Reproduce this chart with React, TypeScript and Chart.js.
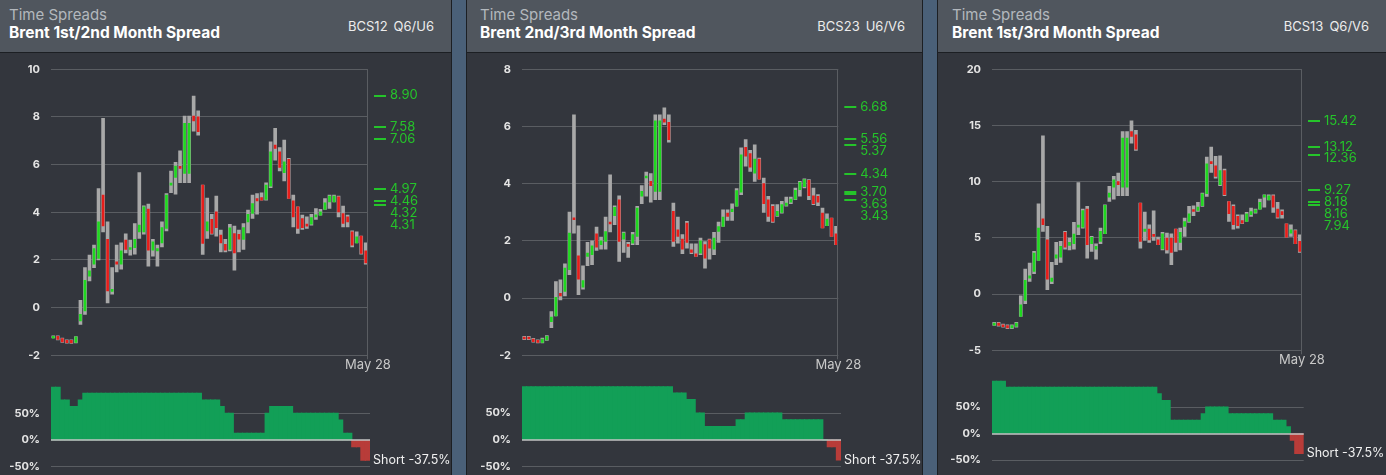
import React, { useEffect, useRef } from "react";
import { Chart, registerables } from "chart.js";

Chart.register(...registerables);

const FONT = "Inter, 'Liberation Sans', Arial, sans-serif";
Chart.defaults.font.family = FONT;

// ---------- categories ----------
const DATES = [
  "Feb 20", "Feb 23", "Feb 24", "Feb 25", "Feb 26", "Feb 27",
  "Mar 2", "Mar 3", "Mar 4", "Mar 5", "Mar 6", "Mar 9", "Mar 10", "Mar 11", "Mar 12", "Mar 13",
  "Mar 16", "Mar 17", "Mar 18", "Mar 19", "Mar 20", "Mar 23", "Mar 24", "Mar 25", "Mar 26", "Mar 27",
  "Mar 30", "Mar 31",
  "Apr 1", "Apr 2", "Apr 3", "Apr 6", "Apr 7", "Apr 8", "Apr 9", "Apr 10", "Apr 13", "Apr 14",
  "Apr 15", "Apr 16", "Apr 17", "Apr 20", "Apr 21", "Apr 22", "Apr 23", "Apr 24", "Apr 27", "Apr 28",
  "Apr 29", "Apr 30",
  "May 1", "May 4", "May 5", "May 6", "May 7", "May 8", "May 11", "May 12", "May 13", "May 14",
  "May 15", "May 18", "May 19", "May 20", "May 21", "May 22", "May 25", "May 26", "May 27", "May 28",
];
const LAST_LABEL = "May 28";

// ---------- Panel 1: BCS12 ----------
const P1_OPEN = [
  -1.25, -1.20, -1.30, -1.37, -1.37, -1.46, -0.56, -0.14, 1.32, 1.82,
  2.06, 4.72, 2.87, 0.68, 1.92, 1.82, 2.83, 2.44, 2.52, 3.18,
  3.18, 4.13, 2.41, 2.38, 2.72, 3.32, 5.14, 5.46, 5.91, 5.63,
  5.63, 8.04, 8.01, 5.14, 3.22, 3.71, 4.02, 3.04, 2.66, 2.44,
  3.11, 3.08, 2.86, 3.60, 3.95, 4.58, 4.62, 4.54, 5.10, 6.82,
  6.54, 5.66, 6.22, 4.48, 4.23, 3.74, 3.50, 3.50, 3.81, 3.88,
  4.12, 4.44, 4.44, 4.65, 3.95, 3.81, 3.18, 2.72, 3.00, 2.38,
];
const P1_CLOSE = [
  -1.20, -1.33, -1.44, -1.47, -1.48, -1.23, -0.28, 1.15, 1.54, 2.48,
  3.60, 3.43, 0.70, 0.76, 1.82, 2.38, 2.44, 2.52, 2.87, 3.46,
  4.23, 2.41, 2.76, 2.48, 3.36, 4.72, 5.21, 5.94, 5.84, 7.73,
  7.73, 7.83, 7.38, 2.69, 3.60, 3.11, 3.36, 2.72, 2.41, 3.35,
  2.30, 2.87, 3.36, 3.92, 4.37, 4.48, 4.51, 5.14, 6.54, 6.68,
  5.88, 6.12, 4.58, 3.81, 3.32, 3.36, 3.42, 3.78, 3.88, 4.02,
  4.40, 4.68, 4.68, 4.02, 3.53, 3.60, 2.62, 2.97, 2.27, 1.88,
];
const P1_HIGH = [
  -1.18, -1.18, -1.28, -1.35, -1.35, -1.21, 0.31, 1.68, 2.20, 2.62,
  5.00, 7.94, 3.60, 1.68, 2.62, 2.72, 3.10, 2.83, 3.53, 5.67,
  4.27, 4.34, 2.87, 2.62, 3.60, 4.79, 5.73, 6.10, 6.58, 8.04,
  8.04, 8.88, 8.26, 5.14, 4.60, 3.92, 4.68, 3.25, 2.87, 3.50,
  3.42, 3.25, 3.53, 4.09, 4.72, 4.79, 4.82, 5.24, 6.96, 7.52,
  6.72, 7.03, 6.26, 4.72, 4.23, 3.88, 3.81, 3.92, 4.16, 4.12,
  4.58, 4.72, 4.72, 4.68, 4.26, 3.88, 3.22, 3.18, 3.00, 2.72,
];
const P1_LOW = [
  -1.27, -1.35, -1.46, -1.49, -1.50, -1.48, -0.70, -0.28, 1.12, 1.68,
  2.00, 3.18, 0.20, 0.56, 1.50, 1.61, 2.30, 2.20, 2.24, 2.90,
  3.08, 1.74, 2.16, 1.74, 2.55, 3.22, 4.82, 4.76, 5.24, 5.24,
  5.24, 7.40, 7.24, 2.23, 2.90, 3.08, 3.00, 2.34, 2.34, 2.38,
  1.57, 2.34, 2.44, 3.14, 3.74, 3.92, 4.51, 4.51, 5.03, 6.19,
  5.74, 5.32, 4.58, 3.39, 3.11, 3.28, 3.32, 3.46, 3.70, 3.88,
  4.12, 4.16, 4.44, 3.81, 3.39, 3.39, 2.55, 2.72, 2.24, 1.82,
];
const P1_LEVELS = [8.90, 7.58, 7.06, 4.97, 4.46, 4.32, 4.31];
const P1_POSITION = [
  100, 100, 75, 75, 62.5, 62.5, 75, 87.5, 87.5, 87.5,
  87.5, 87.5, 87.5, 87.5, 87.5, 87.5, 87.5, 87.5, 87.5, 87.5,
  87.5, 87.5, 87.5, 87.5, 87.5, 87.5, 87.5, 87.5, 87.5, 87.5,
  87.5, 87.5, 87.5, 75, 75, 75, 75, 62.5, 50, 50,
  12.5, 12.5, 12.5, 12.5, 12.5, 12.5, 12.5, 50, 62.5, 62.5,
  62.5, 62.5, 62.5, 50, 50, 50, 50, 50, 50, 50,
  50, 50, 50, 37.5, 12.5, 12.5, -12.5, -12.5, -37.5, -37.5,
];

// ---------- Panel 2: BCS23 ----------
const P2_OPEN = [
  -1.36, -1.36, -1.43, -1.48, -1.55, -1.46, -0.82, -0.62, 0.17, 0.23,
  0.99, 2.80, 1.48, 0.38, 1.46, 1.52, 2.25, 1.87, 1.98, 2.66,
  2.88, 3.44, 2.06, 1.87, 1.92, 2.16, 3.56, 4.20, 4.08, 3.73,
  3.73, 6.26, 6.15, 3.03, 2.39, 2.06, 2.62, 1.69, 1.55, 1.57,
  1.87, 2.04, 1.71, 2.33, 2.51, 2.97, 3.02, 3.21, 3.70, 5.27,
  5.05, 4.37, 4.86, 4.00, 3.44, 3.21, 2.88, 3.00, 3.24, 3.35,
  3.46, 3.79, 3.90, 4.12, 3.58, 3.56, 2.97, 2.53, 2.80, 2.25,
];
const P2_CLOSE = [
  -1.43, -1.43, -1.52, -1.55, -1.43, -1.34, -0.66, 0.03, 0.08, 1.05,
  2.27, 2.74, 0.66, 0.61, 1.57, 1.83, 1.78, 2.00, 2.33, 2.59,
  3.17, 1.98, 2.27, 1.81, 2.22, 3.15, 3.73, 4.26, 3.93, 6.20,
  6.20, 6.15, 5.54, 1.98, 2.16, 1.71, 1.95, 1.60, 1.46, 2.00,
  1.40, 1.75, 2.10, 2.50, 2.83, 2.86, 3.11, 3.76, 5.01, 4.96,
  4.58, 4.86, 4.16, 3.30, 2.86, 2.68, 3.03, 3.27, 3.32, 3.46,
  3.77, 4.05, 4.14, 3.58, 3.30, 3.35, 2.45, 2.76, 2.16, 1.87,
];
const P2_HIGH = [
  -1.34, -1.34, -1.41, -1.46, -1.40, -1.31, -0.47, 0.58, 0.64, 1.20,
  3.01, 6.41, 2.53, 1.13, 1.95, 2.00, 2.48, 2.13, 2.83, 4.31,
  3.23, 3.58, 2.31, 1.95, 2.30, 3.21, 3.93, 4.41, 4.35, 6.41,
  6.41, 6.65, 6.41, 3.32, 2.83, 2.22, 2.68, 1.90, 1.90, 2.10,
  1.98, 2.06, 2.30, 2.66, 3.09, 3.09, 3.30, 3.83, 5.25, 5.54,
  5.17, 5.36, 4.90, 4.20, 3.56, 3.27, 3.27, 3.38, 3.53, 3.53,
  3.85, 4.08, 4.17, 4.14, 3.85, 3.62, 3.15, 2.95, 2.80, 2.51,
];
const P2_LOW = [
  -1.45, -1.45, -1.54, -1.57, -1.57, -1.48, -1.03, -0.62, -0.06, 0.08,
  0.82, 2.27, 0.12, 0.31, 1.13, 1.17, 1.67, 1.71, 1.71, 2.31,
  2.57, 1.28, 1.60, 1.42, 1.87, 1.87, 3.30, 3.56, 3.35, 3.44,
  3.44, 6.06, 5.45, 1.81, 1.92, 1.55, 1.75, 1.55, 1.46, 1.52,
  1.05, 1.36, 1.52, 1.95, 2.51, 2.72, 2.72, 3.21, 3.62, 4.61,
  4.43, 4.08, 4.16, 3.00, 2.68, 2.65, 2.86, 2.97, 3.21, 3.30,
  3.44, 3.56, 3.85, 3.44, 3.27, 3.23, 2.45, 2.53, 2.16, 1.87,
];
const P2_LEVELS = [6.68, 5.56, 5.37, 4.34, 3.70, 3.63, 3.43];
const P2_POSITION = [
  100, 100, 100, 100, 100, 100, 100, 100, 100, 100,
  100, 100, 100, 100, 100, 100, 100, 100, 100, 100,
  100, 100, 100, 100, 100, 100, 100, 100, 100, 100,
  100, 100, 100, 87.5, 87.5, 87.5, 75, 75, 50, 50,
  25, 25, 25, 25, 25, 25, 25, 37.5, 37.5, 50,
  50, 50, 50, 50, 50, 50, 50, 37.5, 37.5, 37.5,
  37.5, 37.5, 37.5, 37.5, 37.5, 37.5, 0, -12.5, -12.5, -37.5,
];

// ---------- Panel 3: BCS13 ----------
const P3_OPEN = [
  -2.73, -2.58, -2.73, -2.79, -3.02, -2.88, -1.99, -0.56, 1.42, 2.02,
  3.00, 6.70, 4.83, 1.13, 3.20, 3.29, 5.49, 4.33, 4.48, 5.96,
  5.96, 7.56, 4.48, 4.00, 4.69, 5.37, 8.63, 9.52, 10.02, 9.52,
  9.52, 14.47, 14.18, 8.10, 5.58, 5.78, 5.28, 4.83, 4.03, 4.98,
  4.98, 5.78, 4.60, 6.02, 6.46, 7.50, 7.44, 7.86, 8.93, 11.80,
  11.42, 9.73, 11.00, 8.24, 7.80, 6.91, 6.55, 6.46, 7.06, 7.27,
  7.56, 8.63, 8.39, 8.75, 7.56, 7.35, 6.26, 5.43, 5.66, 4.69,
];
const P3_CLOSE = [
  -2.58, -2.79, -2.88, -3.02, -2.79, -2.58, -0.95, 1.22, 1.63, 3.65,
  5.87, 6.17, 1.33, 1.42, 3.50, 4.24, 4.18, 4.60, 5.34, 6.11,
  7.44, 4.39, 5.04, 4.24, 5.58, 7.89, 8.98, 10.17, 9.73, 13.88,
  13.88, 14.03, 12.90, 4.69, 5.78, 4.83, 5.13, 4.39, 5.37, 3.94,
  3.71, 4.60, 5.49, 6.46, 7.15, 7.35, 7.74, 8.93, 11.60, 11.60,
  10.47, 11.00, 8.84, 7.15, 6.17, 6.08, 6.32, 7.15, 7.35, 7.50,
  8.16, 8.75, 8.75, 7.74, 6.85, 7.06, 5.07, 5.72, 4.48, 3.80,
];
const P3_HIGH = [
  -2.52, -2.52, -2.67, -2.73, -2.73, -2.52, -0.15, 2.22, 2.76, 3.80,
  8.04, 14.09, 6.02, 2.82, 4.60, 4.69, 5.58, 4.98, 6.38, 9.93,
  7.56, 7.80, 5.13, 4.48, 5.87, 7.95, 9.58, 10.47, 10.77, 14.47,
  14.47, 15.42, 14.56, 8.10, 7.30, 6.17, 7.41, 5.07, 5.49, 5.43,
  5.37, 5.78, 5.87, 6.76, 7.80, 7.86, 8.16, 8.98, 12.19, 13.08,
  12.25, 12.31, 11.12, 8.24, 7.95, 7.06, 7.06, 7.27, 7.65, 7.56,
  8.45, 8.84, 8.84, 8.84, 8.16, 7.50, 6.26, 6.17, 5.72, 5.28,
];
const P3_LOW = [
  -2.79, -2.85, -2.94, -3.08, -3.08, -2.94, -1.99, -0.86, 1.13, 1.81,
  3.00, 5.58, 0.39, 0.92, 2.61, 2.82, 4.00, 3.94, 4.00, 5.28,
  5.87, 3.20, 3.80, 3.11, 4.48, 5.37, 8.24, 8.45, 8.75, 8.75,
  8.75, 13.43, 12.78, 4.09, 4.77, 4.60, 4.77, 4.39, 3.94, 3.65,
  2.61, 3.80, 3.94, 5.13, 6.38, 6.97, 7.35, 7.80, 8.69, 10.82,
  10.32, 9.64, 8.75, 6.46, 5.78, 5.87, 6.26, 6.46, 6.91, 7.21,
  7.56, 7.74, 8.39, 7.27, 6.76, 6.76, 5.07, 5.13, 4.48, 3.71,
];
const P3_LEVELS = [15.42, 13.12, 12.36, 9.27, 8.18, 8.16, 7.94];
const P3_POSITION = [
  100, 100, 100, 87.5, 87.5, 87.5, 87.5, 87.5, 87.5, 87.5,
  87.5, 87.5, 87.5, 87.5, 87.5, 87.5, 87.5, 87.5, 87.5, 87.5,
  87.5, 87.5, 87.5, 87.5, 87.5, 87.5, 87.5, 87.5, 87.5, 87.5,
  87.5, 87.5, 87.5, 87.5, 87.5, 87.5, 87.5, 75, 62.5, 62.5,
  25, 25, 25, 25, 25, 25, 25, 37.5, 50, 50,
  50, 50, 50, 37.5, 37.5, 37.5, 37.5, 37.5, 37.5, 37.5,
  37.5, 37.5, 37.5, 25, 25, 25, 12.5, -12.5, -37.5, -37.5,
];

// ---------- styling ----------
const H = 475;
const POS_H = 520;
const PAGE_BG = "#4a6078";
const EDGE = "#1c1f23";
const HEADER_BG = "#50565e";
const BODY_BG = "#33363d";
const GRID = "#5a5d62";
const TICK = "#e4e4e4";
const WICK = "#a8a8a8";
const UP = "#1fd81f";
const DOWN = "#e81d1a";
const LEVEL = "#25c42a";
const POS_UP = "#129f57";
const POS_DOWN = "#b83c39";

const PANELS = [
  {
    key: "p1", left: 0, width: 451, textLeft: 9,
    sub: "Time Spreads", title: "Brent 1st/2nd Month Spread", code: "BCS12", contract: "Q6/U6",
    open: P1_OPEN, close: P1_CLOSE, high: P1_HIGH, low: P1_LOW, levels: P1_LEVELS, pos: P1_POSITION,
    yMin: -2, yMax: 10, yStep: 2,
    main: { left: 51, right: 368, top: 69.3, bottom: 355.3 },
    bot: { left: 51, right: 370, top: 386.7, bottom: 466.7 },
  },
  {
    key: "p2", left: 467, width: 455, textLeft: 13,
    sub: "Time Spreads", title: "Brent 2nd/3rd Month Spread", code: "BCS23", contract: "U6/V6",
    open: P2_OPEN, close: P2_CLOSE, high: P2_HIGH, low: P2_LOW, levels: P2_LEVELS, pos: P2_POSITION,
    yMin: -2, yMax: 8, yStep: 2,
    main: { left: 55, right: 371.3, top: 69.3, bottom: 355.3 },
    bot: { left: 55, right: 374, top: 386.3, bottom: 466.7 },
  },
  {
    key: "p3", left: 938, width: 448, textLeft: 14,
    sub: "Time Spreads", title: "Brent 1st/3rd Month Spread", code: "BCS13", contract: "Q6/V6",
    open: P3_OPEN, close: P3_CLOSE, high: P3_HIGH, low: P3_LOW, levels: P3_LEVELS, pos: P3_POSITION,
    yMin: -5, yMax: 20, yStep: 5,
    main: { left: 54, right: 364, top: 69.3, bottom: 350.3 },
    bot: { left: 54, right: 365.7, top: 380.7, bottom: 460 },
  },
];

function buildMain(p: any) {
  const colors = p.open.map((o: number, i: number) => (p.close[i] >= o ? UP : DOWN));
  const overlay = {
    id: "mainOverlay",
    afterDraw(chart: any) {
      const { ctx, chartArea: a, scales } = chart;
      const y = scales.y;
      ctx.save();
      ctx.strokeStyle = GRID;
      ctx.lineWidth = 1;
      const rx = Math.round(a.right) - 0.5;
      ctx.beginPath();
      ctx.moveTo(rx, a.top);
      ctx.lineTo(rx, a.bottom + 4);
      ctx.stroke();
      ctx.fillStyle = "#c8c8c8";
      ctx.font = `13px ${FONT}`;
      ctx.textAlign = "center";
      ctx.textBaseline = "middle";
      ctx.fillText(LAST_LABEL, a.right, a.bottom + 10);
      const sorted = [...p.levels].sort((u: number, v: number) => v - u);
      let prev = -Infinity;
      ctx.fillStyle = LEVEL;
      ctx.textAlign = "left";
      sorted.forEach((v: number) => {
        const yy = y.getPixelForValue(v);
        ctx.fillRect(a.right + 6, Math.round(yy) - 1, 12, 2);
        const ty = Math.max(yy, prev + 11.9);
        ctx.fillText(v.toFixed(2), a.right + 22, ty);
        prev = ty;
      });
      ctx.restore();
    },
  };
  return {
    type: "bar",
    data: {
      labels: DATES,
      datasets: [
        {
          data: p.low.map((l: number, i: number) => [l, p.high[i]]),
          backgroundColor: WICK, barThickness: 3, grouped: false, order: 2, borderWidth: 0,
        },
        {
          data: p.open.map((o: number, i: number) => [o, p.close[i]]),
          backgroundColor: colors, barThickness: 2, grouped: false, order: 1, borderWidth: 0, minBarLength: 2,
        },
      ],
    },
    options: {
      animation: false,
      responsive: false,
      maintainAspectRatio: false,
      devicePixelRatio: 1,
      layout: { padding: { left: 0, right: p.width - p.main.right, top: p.main.top, bottom: H - p.main.bottom } },
      plugins: { legend: { display: false }, tooltip: { enabled: false } },
      scales: {
        x: { display: false, offset: true },
        y: {
          min: p.yMin, max: p.yMax,
          afterFit: (s: any) => { s.width = p.main.left; },
          ticks: { stepSize: p.yStep, color: TICK, font: { family: FONT, size: 11, weight: "bold" }, padding: 11 },
          grid: { color: GRID, drawTicks: false, lineWidth: 1 },
          border: { display: false },
        },
      },
    },
    plugins: [overlay],
  };
}

function buildPos(p: any) {
  const last = p.pos[p.pos.length - 1];
  const overlay = {
    id: "posOverlay",
    afterDatasetsDraw(chart: any) {
      const { ctx, chartArea: a, scales } = chart;
      const y0 = Math.round(scales.y.getPixelForValue(0));
      ctx.save();
      ctx.strokeStyle = "#c4c4c4";
      ctx.lineWidth = 1.5;
      ctx.beginPath();
      ctx.moveTo(a.left, y0);
      ctx.lineTo(a.right, y0);
      ctx.stroke();
      ctx.restore();
    },
    afterDraw(chart: any) {
      const { ctx, chartArea: a, scales } = chart;
      ctx.save();
      ctx.fillStyle = "#f0f0f0";
      ctx.font = `12.5px ${FONT}`;
      ctx.textAlign = "left";
      ctx.textBaseline = "middle";
      ctx.fillText(`${last < 0 ? "Short" : "Long"} ${last}%`, a.right + 3, scales.y.getPixelForValue(last));
      ctx.restore();
    },
  };
  return {
    type: "bar",
    data: {
      labels: DATES,
      datasets: [
        {
          data: p.pos,
          backgroundColor: p.pos.map((v: number) => (v >= 0 ? POS_UP : POS_DOWN)),
          barPercentage: 1, categoryPercentage: 1, borderWidth: 0, inflateAmount: 0.6,
        },
      ],
    },
    options: {
      animation: false,
      responsive: false,
      maintainAspectRatio: false,
      devicePixelRatio: 1,
      layout: { padding: { left: 0, right: p.width - p.bot.right, top: p.bot.top, bottom: POS_H - p.bot.bottom } },
      plugins: { legend: { display: false }, tooltip: { enabled: false } },
      scales: {
        x: { display: false, offset: true },
        y: {
          min: -50, max: 100,
          afterFit: (s: any) => { s.width = p.bot.left; },
          afterBuildTicks: (s: any) => { s.ticks = [-50, 0, 50].map((v) => ({ value: v })); },
          ticks: {
            color: TICK, font: { family: FONT, size: 11, weight: "bold" }, padding: 11,
            callback: (v: any) => `${v}%`,
          },
          grid: {
            drawTicks: false,
            color: (c: any) => (c.tick && c.tick.value === 0 ? "rgba(0,0,0,0)" : GRID),
          },
          border: { display: false },
        },
      },
    },
    plugins: [overlay],
  };
}

function Panel({ p }: { p: any }) {
  const mainRef = useRef<HTMLCanvasElement>(null);
  const posRef = useRef<HTMLCanvasElement>(null);
  useEffect(() => {
    const m = new Chart(mainRef.current as HTMLCanvasElement, buildMain(p) as any);
    const b = new Chart(posRef.current as HTMLCanvasElement, buildPos(p) as any);
    return () => {
      m.destroy();
      b.destroy();
    };
  }, [p]);
  return (
    <div style={{ position: "absolute", left: p.left, top: 0, width: p.width, height: H, background: BODY_BG, overflow: "hidden" }}>
      <div style={{ position: "absolute", left: 0, top: 0, width: p.width, height: 52, background: HEADER_BG, borderBottom: `1px solid ${EDGE}` }}>
        <div style={{ position: "absolute", left: p.textLeft, top: 6, lineHeight: "18px", fontSize: 15, color: "#b3b8bd", fontFamily: FONT, whiteSpace: "nowrap" }}>
          {p.sub}
        </div>
        <div style={{ position: "absolute", left: p.textLeft, top: 23, lineHeight: "20px", fontSize: 15.5, fontWeight: "bold", color: "#ffffff", fontFamily: FONT, whiteSpace: "nowrap" }}>
          {p.title}
        </div>
        <div style={{ position: "absolute", right: 17, top: 17, lineHeight: "18px", fontSize: 13, color: "#ececec", fontFamily: FONT, whiteSpace: "nowrap" }}>
          {p.code}
          <span style={{ marginLeft: 6 }}>{p.contract}</span>
        </div>
      </div>
      <canvas ref={mainRef} width={p.width} height={H} style={{ position: "absolute", left: 0, top: 0, width: p.width, height: H }} />
      <canvas ref={posRef} width={p.width} height={POS_H} style={{ position: "absolute", left: 0, top: 0, width: p.width, height: POS_H }} />
    </div>
  );
}

export default function App() {
  return (
    <div style={{ position: "fixed", left: 0, top: 0, width: 1386, height: H, background: PAGE_BG, overflow: "hidden" }}>
      <div style={{ position: "absolute", left: 451, top: 0, width: 1, height: H, background: EDGE }} />
      <div style={{ position: "absolute", left: 466, top: 0, width: 1, height: H, background: EDGE }} />
      <div style={{ position: "absolute", left: 922, top: 0, width: 1, height: H, background: EDGE }} />
      <div style={{ position: "absolute", left: 937, top: 0, width: 1, height: H, background: EDGE }} />
      {PANELS.map((p) => (
        <Panel key={p.key} p={p} />
      ))}
    </div>
  );
}
